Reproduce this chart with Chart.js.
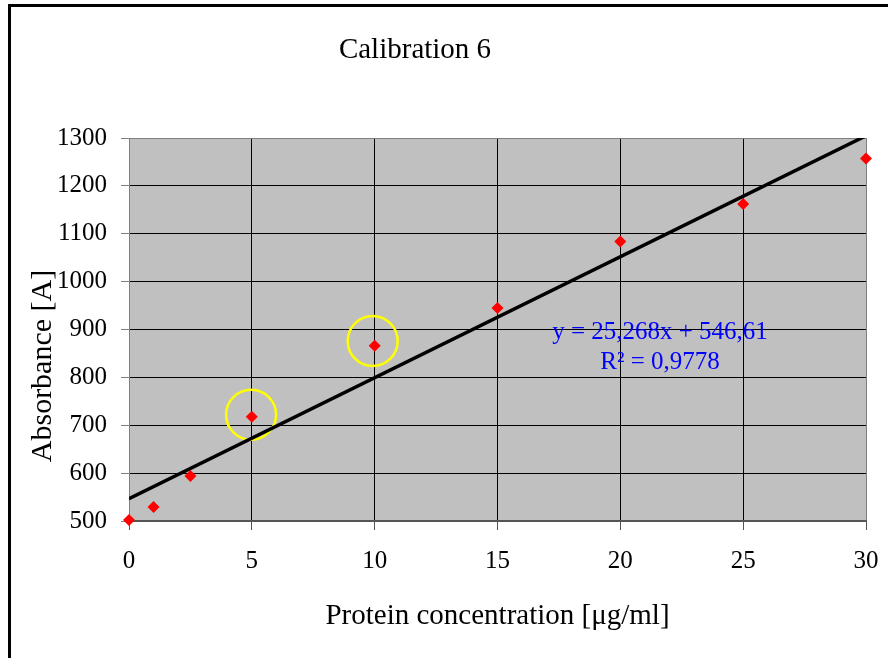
<!DOCTYPE html>
<html>
<head>
<meta charset="utf-8">
<title>Calibration 6</title>
<script src="https://cdn.jsdelivr.net/npm/chart.js@4"></script>
<style>
  html, body { margin: 0; padding: 0; background: #fff; }
  canvas { display: block; }
</style>
</head>
<body>
<canvas id="calibrationChart" width="888" height="658"></canvas>
<script>
// Calibration 6 - absorbance vs protein concentration

// measured points
const concentration = [0, 1, 2.5, 5, 10, 15, 20, 25, 30];
const absorbance = [502, 529, 594, 718, 866, 945, 1084, 1162, 1257];

// linear trend (y = 25,268x + 546,61), end points
const trendX = [0, 30];
const trendY = [546.61, 1304.65];

// the two circled outliers
const highlightX = [4.97, 9.92];
const highlightY = [722, 876];

// axis ranges
const xRange = [0, 30, 5];
const yRange = [500, 1300, 100];

const equationLines = ['y = 25,268x + 546,61', 'R\u00b2 = 0,9778'];

const serif = '"Liberation Serif", "Times New Roman", serif';

function toPoints(xs, ys) {
    return xs.map((x, i) => ({ x: x, y: ys[i] }));
}

// grey plot background, outer frame and free text
const plotDecor = {
    id: 'plotDecor',
    beforeDraw(chart) {
        const { ctx, chartArea: a } = chart;
        ctx.save();
        ctx.fillStyle = '#ffffff';
        ctx.fillRect(0, 0, chart.width, chart.height);
        ctx.fillStyle = '#c0c0c0';
        ctx.fillRect(a.left, a.top, a.right - a.left, a.bottom - a.top);
        ctx.restore();
    },
    afterDraw(chart) {
        const ctx = chart.ctx;
        ctx.save();
        // outer frame (left + top)
        ctx.fillStyle = '#000';
        ctx.fillRect(8, 4, 3, chart.height - 4);
        ctx.fillRect(8, 4, chart.width - 8, 3);

        ctx.textAlign = 'center';
        ctx.textBaseline = 'middle';

        // chart title
        ctx.fillStyle = '#000';
        ctx.font = '29px ' + serif;
        ctx.fillText('Calibration 6', 415, 50);

        // y axis title
        ctx.save();
        ctx.translate(43, 366);
        ctx.rotate(-Math.PI / 2);
        ctx.font = '30px ' + serif;
        ctx.fillText('Absorbance [A]', 0, 0);
        ctx.restore();

        // trendline equation
        ctx.fillStyle = '#0000ff';
        ctx.font = '25px ' + serif;
        ctx.fillText(equationLines[0], 660, 332);
        ctx.fillText(equationLines[1], 660, 362);
        ctx.restore();
    }
};

const ctx = document.getElementById('calibrationChart').getContext('2d');

new Chart(ctx, {
    type: 'scatter',
    data: {
        datasets: [
            {
                label: 'Measured',
                data: toPoints(concentration, absorbance),
                pointStyle: 'rectRot',
                pointRadius: 6,
                pointBackgroundColor: '#ff0000',
                pointBorderColor: '#ff0000',
                pointBorderWidth: 0,
                clip: false,
                order: 0
            },
            {
                label: 'Trend',
                data: toPoints(trendX, trendY),
                showLine: true,
                borderColor: '#000000',
                borderWidth: 3.5,
                pointRadius: 0,
                clip: 0,
                order: 1
            },
            {
                label: 'Outliers',
                data: toPoints(highlightX, highlightY),
                pointStyle: 'circle',
                pointRadius: 25,
                pointBackgroundColor: 'rgba(0,0,0,0)',
                pointBorderColor: '#ffff00',
                pointBorderWidth: 2.5,
                clip: false,
                order: 2
            }
        ]
    },
    options: {
        responsive: false,
        devicePixelRatio: 1,
        animation: false,
        layout: {
            autoPadding: false,
            padding: { top: 138, right: 22, left: 0, bottom: 0 }
        },
        plugins: {
            legend: { display: false },
            tooltip: { enabled: false },
            title: { display: false }
        },
        scales: {
            x: {
                type: 'linear',
                min: xRange[0],
                max: xRange[1],
                afterFit: function(scale) {
                    scale.height = 137;
                    scale.paddingLeft = 0;
                    scale.paddingRight = 0;
                },
                ticks: {
                    stepSize: xRange[2],
                    padding: 16,
                    color: '#000',
                    font: { family: serif, size: 25 }
                },
                grid: {
                    color: c => c.tick.value === xRange[0] ? 'rgba(0,0,0,0)' :
                        (c.tick.value === xRange[1] ? '#808080' : '#000'),
                    lineWidth: 1,
                    tickLength: 9,
                    tickColor: '#555'
                },
                border: { display: true, color: '#555', width: 2 },
                title: {
                    display: true,
                    text: 'Protein concentration [\u03bcg/ml]',
                    color: '#000',
                    font: { family: serif, size: 29 },
                    padding: { top: 0, bottom: 24 }
                }
            },
            y: {
                type: 'linear',
                min: yRange[0],
                max: yRange[1],
                afterFit: function(scale) { scale.width = 129; },
                ticks: {
                    stepSize: yRange[2],
                    padding: 14,
                    color: '#000',
                    font: { family: serif, size: 25 },
                    callback: value => String(value)
                },
                grid: {
                    color: c => c.tick.value === yRange[0] ? 'rgba(0,0,0,0)' :
                        (c.tick.value === yRange[1] ? '#808080' : '#000'),
                    lineWidth: 1,
                    tickLength: 8,
                    tickColor: '#808080'
                },
                border: { display: true, color: '#808080', width: 1 }
            }
        }
    },
    plugins: [plotDecor]
});
</script>
</body>
</html>
